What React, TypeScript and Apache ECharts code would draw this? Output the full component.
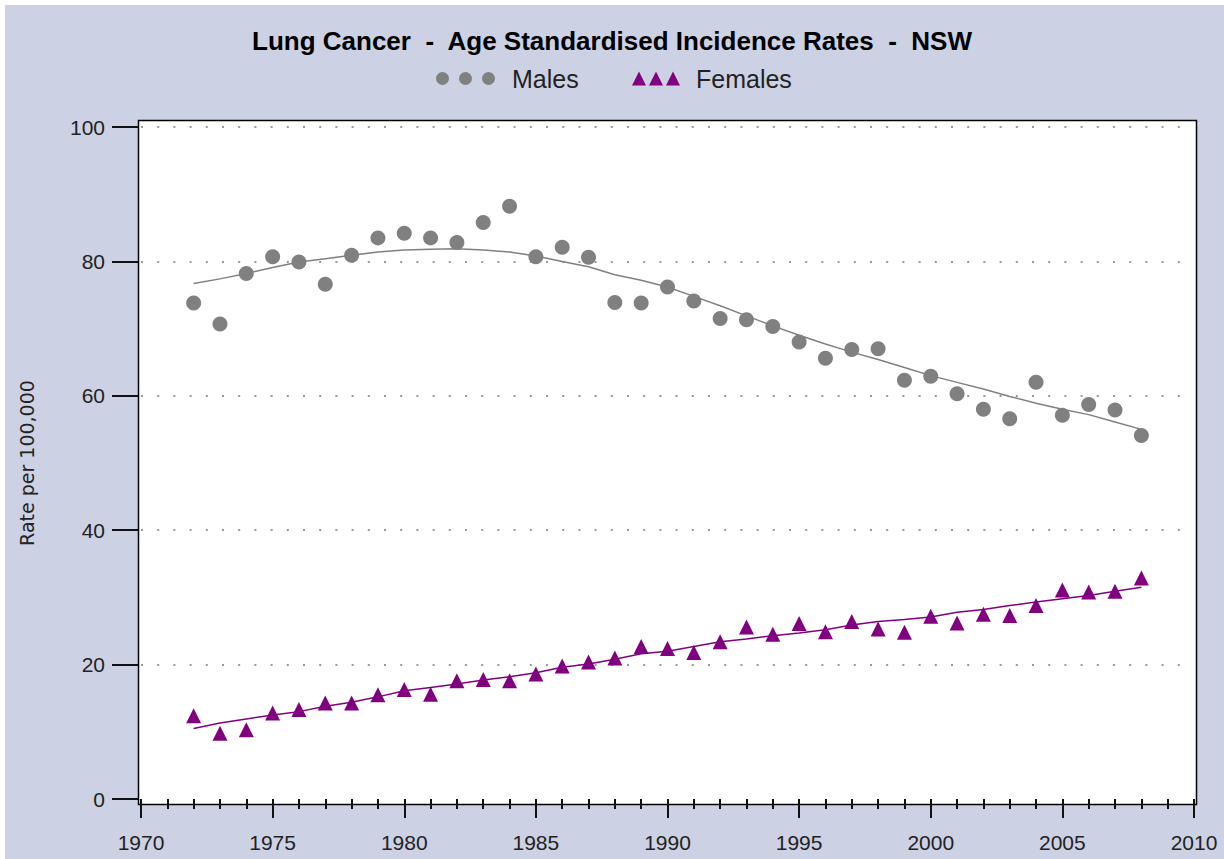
import React, { useEffect, useRef } from "react";
import * as echarts from "echarts";

const years = [1972, 1973, 1974, 1975, 1976, 1977, 1978, 1979, 1980, 1981, 1982, 1983, 1984, 1985, 1986, 1987, 1988, 1989, 1990, 1991, 1992, 1993, 1994, 1995, 1996, 1997, 1998, 1999, 2000, 2001, 2002, 2003, 2004, 2005, 2006, 2007, 2008];

const males = [73.8, 70.7, 78.2, 80.7, 79.9, 76.6, 80.9, 83.5, 84.2, 83.5, 82.8, 85.8, 88.2, 80.7, 82.1, 80.6, 73.9, 73.8, 76.2, 74.1, 71.5, 71.3, 70.3, 68.0, 65.6, 66.9, 67.0, 62.3, 62.9, 60.3, 58.0, 56.6, 62.0, 57.1, 58.7, 57.9, 54.1];

const maleTrend = [76.7, 77.4, 78.2, 79.1, 79.9, 80.4, 80.9, 81.4, 81.7, 81.8, 81.9, 81.7, 81.4, 80.8, 80.0, 79.2, 78.0, 77.2, 76.2, 74.8, 73.4, 71.9, 70.4, 69.0, 67.7, 66.5, 65.4, 64.2, 63.0, 62.0, 61.0, 59.9, 58.9, 58.0, 57.2, 56.1, 55.0];

const females = [12.4, 9.8, 10.3, 12.8, 13.3, 14.3, 14.3, 15.5, 16.3, 15.6, 17.6, 17.8, 17.6, 18.6, 19.8, 20.4, 21.0, 22.7, 22.4, 21.8, 23.4, 25.6, 24.5, 26.1, 24.9, 26.4, 25.3, 24.8, 27.2, 26.2, 27.5, 27.3, 28.8, 31.1, 30.8, 30.9, 32.9];

const femaleTrend = [10.5, 11.3, 11.9, 12.5, 13.0, 13.8, 14.4, 15.2, 16.1, 16.6, 17.1, 17.7, 18.2, 18.8, 19.6, 20.1, 20.8, 21.6, 22.0, 22.7, 23.4, 23.8, 24.3, 24.7, 25.2, 25.9, 26.4, 26.7, 27.1, 27.8, 28.2, 28.8, 29.3, 29.8, 30.3, 30.9, 31.5];

const seriesNames = ["Males", "Females"];
const titleText = "Lung Cancer  -  Age Standardised Incidence Rates  -  NSW";
const yAxisTitle = "Rate per 100,000";

const MALE_COLOR = "#808080";
const FEMALE_COLOR = "#800080";
const BG = "#cdd1e4";

const circlesIcon =
  "path://M0,6.5a6.5,6.5 0 1,0 13,0a6.5,6.5 0 1,0 -13,0Z M23,6.5a6.5,6.5 0 1,0 13,0a6.5,6.5 0 1,0 -13,0Z M46,6.5a6.5,6.5 0 1,0 13,0a6.5,6.5 0 1,0 -13,0Z";
const trianglesIcon =
  "path://M0,14L7,0L14,14Z M17,14L24,0L31,14Z M34,14L41,0L48,14Z";

export default function App() {
  const ref = useRef<HTMLDivElement>(null);

  useEffect(() => {
    if (!ref.current) return;
    const chart = echarts.init(ref.current, undefined, { renderer: "svg" });
    const pair = (vals: number[]) => years.map((y, i) => [y, vals[i]]);
    const font = "'Liberation Sans', Arial, sans-serif";

    chart.setOption({
      animation: false,
      backgroundColor: "#ffffff",
      textStyle: { fontFamily: font },
      title: {
        text: titleText,
        left: "center",
        top: 23,
        textStyle: { fontFamily: font, fontWeight: "bold", fontSize: 26, color: "#000" },
      },
      legend: [
        {
          data: [{ name: seriesNames[0], icon: circlesIcon }],
          left: 436,
          top: 66,
          padding: 0,
          itemWidth: 59,
          itemHeight: 13,
          textStyle: { fontFamily: font, fontSize: 25, color: "#222", padding: [0, 0, 0, 12] },
        },
        {
          data: [{ name: seriesNames[1], icon: trianglesIcon }],
          left: 632,
          top: 66,
          padding: 0,
          itemWidth: 48,
          itemHeight: 14,
          textStyle: { fontFamily: font, fontSize: 25, color: "#222", padding: [0, 0, 0, 11] },
        },
      ],
      graphic: [
        {
          type: "rect",
          z: -20,
          silent: true,
          shape: { x: 5, y: 5, width: 1219, height: 854 },
          style: { fill: BG, stroke: "none" },
        },
        {
          type: "rect",
          z: -10,
          silent: true,
          shape: { x: 138.5, y: 120.5, width: 1058, height: 684 },
          style: { fill: "#ffffff", stroke: "#000", lineWidth: 1.5 },
        },
      ],
      grid: { left: 141, right: 30, top: 127, bottom: 60 },
      xAxis: {
        type: "value",
        min: 1970,
        max: 2010,
        interval: 5,
        offset: 6,
        axisLine: { show: false },
        axisTick: { show: true, length: 19, lineStyle: { color: "#111", width: 2 } },
        minorTick: { show: true, splitNumber: 5, length: 10, lineStyle: { color: "#111", width: 2 } },
        splitLine: { show: false },
        axisLabel: {
          fontFamily: font,
          fontSize: 21,
          color: "#222",
          margin: 27,
          formatter: (v: number) => String(v),
        },
      },
      yAxis: {
        type: "value",
        min: 0,
        max: 100,
        interval: 20,
        offset: 3,
        name: yAxisTitle,
        nameLocation: "middle",
        nameRotate: 90,
        nameGap: 102,
        nameTextStyle: { fontFamily: "'DejaVu Sans', sans-serif", fontSize: 19, color: "#222" },
        axisLine: { show: false },
        axisTick: { show: true, length: 26, lineStyle: { color: "#111", width: 2 } },
        splitLine: {
          show: true,
          showMinLine: false,
          lineStyle: { color: "#999", width: 2, type: [2, 14.2] },
        },
        axisLabel: { fontFamily: font, fontSize: 21, color: "#222", margin: 33 },
      },
      series: [
        {
          name: seriesNames[0],
          type: "scatter",
          data: pair(males),
          symbol: "circle",
          symbolSize: 15,
          itemStyle: { color: MALE_COLOR, opacity: 1 },
          z: 3,
        },
        {
          name: seriesNames[1],
          type: "scatter",
          data: pair(females),
          symbol: "triangle",
          symbolSize: [15, 15],
          itemStyle: { color: FEMALE_COLOR, opacity: 1 },
          z: 3,
        },
        {
          name: "Males trend",
          type: "line",
          data: pair(maleTrend),
          showSymbol: false,
          symbol: "none",
          lineStyle: { color: MALE_COLOR, width: 1.5 },
          itemStyle: { color: MALE_COLOR },
          z: 2,
        },
        {
          name: "Females trend",
          type: "line",
          data: pair(femaleTrend),
          showSymbol: false,
          symbol: "none",
          lineStyle: { color: FEMALE_COLOR, width: 1.5 },
          itemStyle: { color: FEMALE_COLOR },
          z: 2,
        },
      ],
    });

    return () => chart.dispose();
  }, []);

  return (
    <div
      ref={ref}
      style={{ position: "fixed", left: 0, top: 0, width: 1224, height: 859 }}
    />
  );
}
